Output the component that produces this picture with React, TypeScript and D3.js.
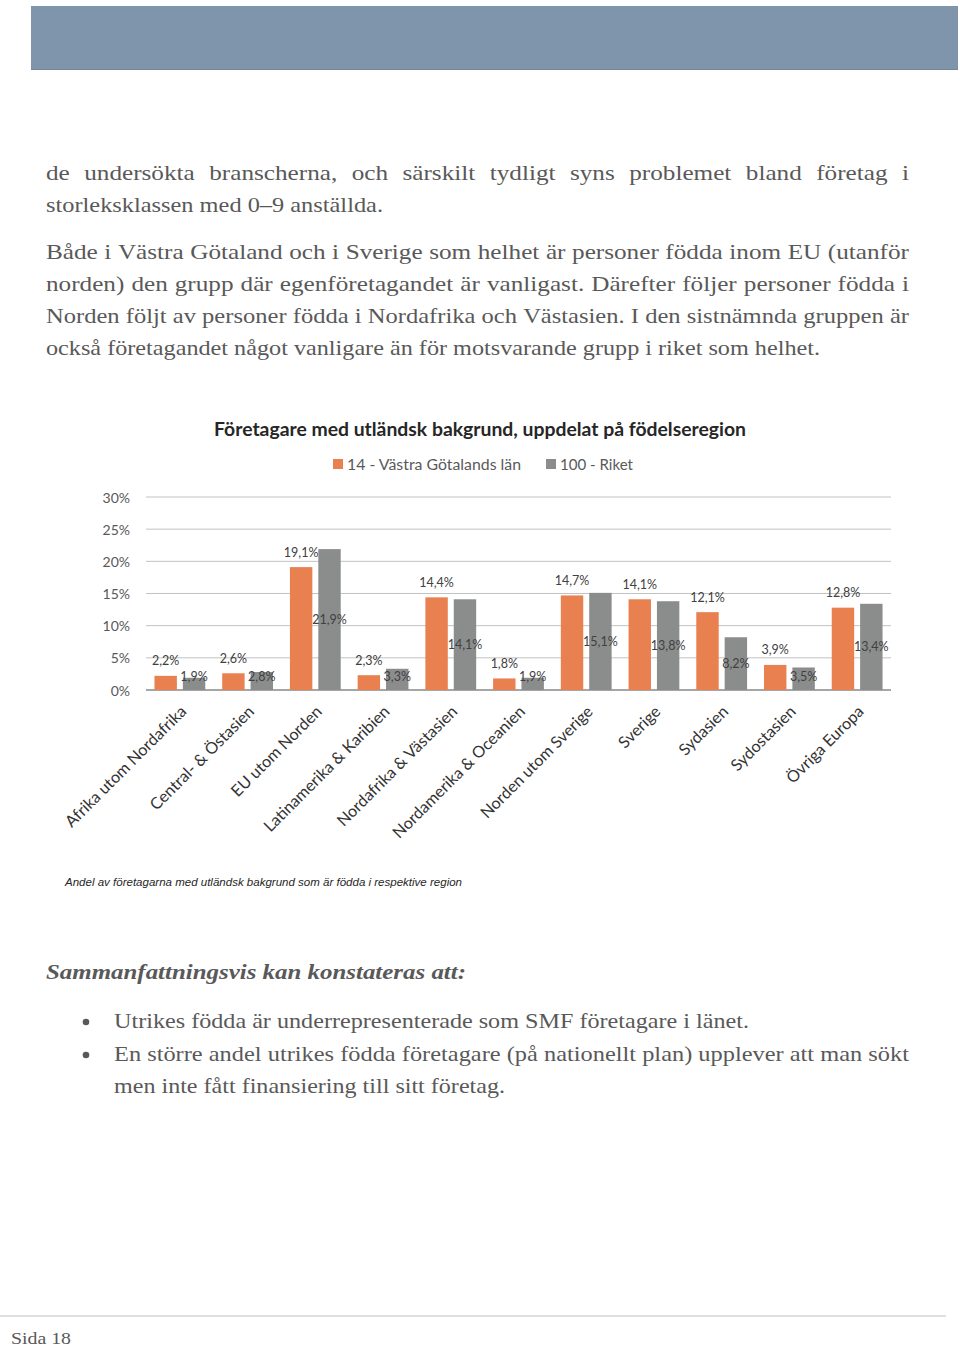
import React, { useRef, useEffect } from "react";
import * as d3 from "d3";

// kategorier (födelseregion)
const categories = [
  "Afrika utom Nordafrika",
  "Central- & Östasien",
  "EU utom Norden",
  "Latinamerika & Karibien",
  "Nordafrika & Västasien",
  "Nordamerika & Oceanien",
  "Norden utom Sverige",
  "Sverige",
  "Sydasien",
  "Sydostasien",
  "Övriga Europa",
];

const seriesNames = ["14 - Västra Götalands län", "100 - Riket"];
const vgValues = [2.2, 2.6, 19.1, 2.3, 14.4, 1.8, 14.7, 14.1, 12.1, 3.9, 12.8];
const riketValues = [1.9, 2.8, 21.9, 3.3, 14.1, 1.9, 15.1, 13.8, 8.2, 3.5, 13.4];
const yTicks = [0, 5, 10, 15, 20, 25, 30];

const chartTitle = "Företagare med utländsk bakgrund, uppdelat på födelseregion";
const footnote = "Andel av företagarna med utländsk bakgrund som är födda i respektive region";

// brödtext, rad för rad
const paraLines = [
  { text: "de undersökta branscherna, och särskilt tydligt syns problemet bland företag i", justify: true },
  { text: "storleksklassen med 0–9 anställda.", justify: false },
  { text: "Både i Västra Götaland och i Sverige som helhet är personer födda inom EU (utanför", justify: true },
  { text: "norden) den grupp där egenföretagandet är vanligast. Därefter följer personer födda i", justify: true },
  { text: "Norden följt av personer födda i Nordafrika och Västasien. I den sistnämnda gruppen är", justify: true },
  { text: "också företagandet något vanligare än för motsvarande grupp i riket som helhet.", justify: false },
];
const heading = "Sammanfattningsvis kan konstateras att:";
const bulletLines = [
  { text: "Utrikes födda är underrepresenterade som SMF företagare i länet.", justify: false, bullet: true },
  { text: "En större andel utrikes födda företagare (på nationellt plan) upplever att man sökt", justify: true, bullet: true },
  { text: "men inte fått finansiering till sitt företag.", justify: false, bullet: false },
];

const ORANGE = "#e8804f";
const GRAY = "#8b8d8d";
const TEXT = "#595959";
const SERIF = "'Liberation Serif', serif";
const SANS = "Lato, 'Open Sans', sans-serif";
const SX = 1.2; // brödtexten är bredare än Liberation Serif

const App = () => {
  const ref = useRef<SVGSVGElement | null>(null);

  useEffect(() => {
    if (!ref.current) return;
    const svg = d3.select(ref.current);
    svg.selectAll("*").remove();

    // sidhuvud
    svg.append("rect").attr("x", 31).attr("y", 6).attr("width", 927).attr("height", 64).attr("fill", "#7f95ab");
    svg.append("line").attr("x1", 31).attr("x2", 958).attr("y1", 69.5).attr("y2", 69.5).attr("stroke", "#73879b");

    /** textrad: justerad eller utsträckt till en given bredd */
    const drawLine = (
      text: string,
      x0: number,
      x1: number,
      y: number,
      justify: boolean,
      style: { size: number; weight?: string; italic?: boolean; sx?: number }
    ) => {
      let sx = style.sx ?? SX;
      const g = svg.append("g");
      const setStyle = (t: any) =>
        t
          .attr("font-family", SERIF)
          .attr("font-size", style.size)
          .attr("font-weight", style.weight ?? "normal")
          .attr("font-style", style.italic ? "italic" : "normal")
          .attr("fill", TEXT);
      if (justify) {
        const words = text.split(" ");
        const nodes = words.map((w) => setStyle(g.append("text").attr("y", 0).text(w)));
        const widths = nodes.map((n) => (n.node() as SVGTextElement).getComputedTextLength());
        const natural = d3.sum(widths) + style.size * 0.25 * (words.length - 1);
        sx = Math.min(sx, (x1 - x0) / natural);
        const gap = ((x1 - x0) / sx - d3.sum(widths)) / (words.length - 1);
        let cx = 0;
        nodes.forEach((n, i) => {
          n.attr("x", cx);
          cx += widths[i] + gap;
        });
      } else {
        setStyle(g.append("text").attr("x", 0).attr("y", 0).text(text))
          .attr("textLength", (x1 - x0) / sx)
          .attr("lengthAdjust", "spacingAndGlyphs");
      }
      g.attr("transform", `translate(${x0},${y}) scale(${sx},1)`);
    };

    const paraY = [180, 212, 259, 291, 323, 355];
    const paraRight = [909, 383, 909, 909, 909, 820];
    paraLines.forEach((l, i) => drawLine(l.text, 46, paraRight[i], paraY[i], l.justify, { size: 21 }));

    drawLine(heading, 46, 466, 979, false, { size: 21, weight: "bold", italic: true });

    const bulletY = [1028, 1061, 1093];
    const bulletRight = [749, 909, 505];
    bulletLines.forEach((l, i) => {
      if (l.bullet) svg.append("circle").attr("cx", 86).attr("cy", bulletY[i] - 6).attr("r", 3.3).attr("fill", TEXT);
      drawLine(l.text, 114, bulletRight[i], bulletY[i], l.justify, { size: 21 });
    });

    // sidfot
    svg.append("line").attr("x1", 0).attr("x2", 946).attr("y1", 1316).attr("y2", 1316).attr("stroke", "#d4d4d4").attr("stroke-width", 1.5);
    drawLine("Sida 18", 11, 71, 1344, false, { size: 17, sx: 1.15 });

    // ---- diagram ----
    const x = d3.scaleBand<string>().domain(categories).range([146, 891]).paddingInner(0.25).paddingOuter(0.125);
    const xs = d3.scaleBand<string>().domain(seriesNames).range([0, x.bandwidth()]).paddingInner(0.21);
    const y = d3.scaleLinear().domain([0, 30]).range([690, 497]);
    const fmt = (v: number) => d3.format(".1f")(v).replace(".", ",") + "%";

    svg
      .append("text")
      .attr("x", 214)
      .attr("y", 428)
      .attr("dominant-baseline", "central")
      .attr("font-family", SANS)
      .attr("font-weight", "bold")
      .attr("font-size", 19.2)
      .attr("fill", "#262626")
      .attr("textLength", 532)
      .attr("lengthAdjust", "spacingAndGlyphs")
      .text(chartTitle);

    // legend
    const legendX = [333, 546];
    const legendW = [174, 73];
    seriesNames.forEach((s, i) => {
      svg.append("rect").attr("x", legendX[i]).attr("y", 459).attr("width", 10).attr("height", 10).attr("fill", i === 0 ? ORANGE : GRAY);
      svg
        .append("text")
        .attr("x", legendX[i] + 14)
        .attr("y", 464)
        .attr("dominant-baseline", "central")
        .attr("font-family", SANS)
        .attr("font-size", 15.5)
        .attr("fill", TEXT)
        .attr("textLength", legendW[i])
        .attr("lengthAdjust", "spacingAndGlyphs")
        .text(s);
    });

    // rutnät och y-axel
    yTicks.forEach((t) => {
      svg
        .append("line")
        .attr("x1", 146)
        .attr("x2", 891)
        .attr("y1", y(t))
        .attr("y2", y(t))
        .attr("stroke", t === 0 ? "#898989" : "#c2c2c2")
        .attr("stroke-width", t === 0 ? 1.5 : 1);
      svg
        .append("text")
        .attr("x", 130)
        .attr("y", y(t))
        .attr("text-anchor", "end")
        .attr("dominant-baseline", "central")
        .attr("font-family", SANS)
        .attr("font-size", 14)
        .attr("fill", TEXT)
        .text(`${t}%`);
    });

    // staplar
    categories.forEach((c, i) => {
      const vals = [vgValues[i], riketValues[i]];
      vals.forEach((v, j) => {
        const bx = (x(c) ?? 0) + (xs(seriesNames[j]) ?? 0);
        svg
          .append("rect")
          .attr("x", bx)
          .attr("y", y(v))
          .attr("width", xs.bandwidth())
          .attr("height", y(0) - y(v))
          .attr("fill", j === 0 ? ORANGE : GRAY);
        const ly = j === 0 ? y(v) - 15 : Math.min((y(v) + y(0)) / 2, 676);
        svg
          .append("text")
          .attr("x", bx + xs.bandwidth() / 2)
          .attr("y", ly)
          .attr("text-anchor", "middle")
          .attr("dominant-baseline", "central")
          .attr("font-family", SANS)
          .attr("font-size", 12.5)
          .attr("fill", "#404040")
          .text(fmt(v));
      });

      // x-etiketter
      const cx = (x(c) ?? 0) + x.bandwidth() / 2;
      svg
        .append("text")
        .attr("transform", `translate(${cx + 3}, 708) rotate(-45)`)
        .attr("text-anchor", "end")
        .attr("dominant-baseline", "central")
        .attr("font-family", SANS)
        .attr("font-size", 16.2)
        .attr("fill", "#333333")
        .text(c);
    });

    svg
      .append("text")
      .attr("x", 65)
      .attr("y", 886)
      .attr("font-family", "'Liberation Sans', Arial, sans-serif")
      .attr("font-style", "italic")
      .attr("font-size", 11.2)
      .attr("fill", "#262626")
      .attr("textLength", 397)
      .attr("lengthAdjust", "spacingAndGlyphs")
      .text(footnote);
  }, []);

  return (
    <svg
      ref={ref}
      width={960}
      height={1348}
      style={{ position: "absolute", left: 0, top: 0, background: "#fff" }}
    />
  );
};

export default App;
